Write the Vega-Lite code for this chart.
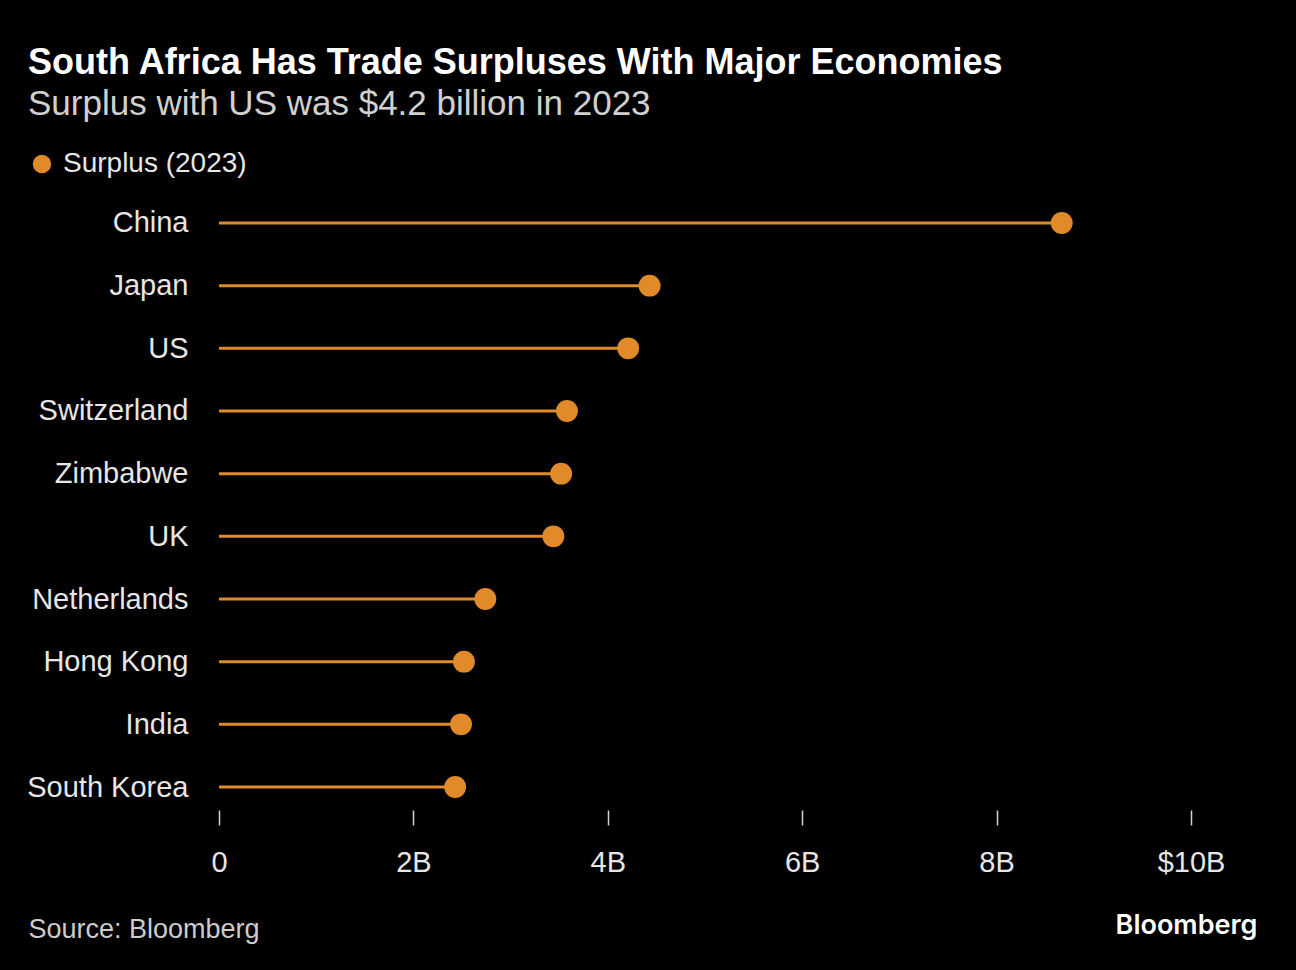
{
  "$schema": "https://vega.github.io/schema/vega-lite/v6.json",
  "autosize": {"type": "none"},
  "width": 972,
  "height": 610,
  "padding": {"left": 219, "top": 200, "right": 105, "bottom": 160},
  "background": "#000000",
  "view": {"stroke": null},
  "title": {
    "text": "South Africa Has Trade Surpluses With Major Economies",
    "subtitle": "Surplus with US was $4.2 billion in 2023",
    "anchor": "start",
    "frame": "group",
    "dx": -191,
    "offset": 27,
    "font": "Liberation Sans",
    "fontSize": 36,
    "fontWeight": "bold",
    "color": "#ffffff",
    "subtitleFont": "Liberation Sans",
    "subtitleFontSize": 35,
    "subtitleColor": "#d0d0d0",
    "subtitlePadding": 5
  },
  "data": {
    "values": [
      {"country": "China", "value": 8.67, "series": "Surplus (2023)"},
      {"country": "Japan", "value": 4.43, "series": "Surplus (2023)"},
      {"country": "US", "value": 4.21, "series": "Surplus (2023)"},
      {"country": "Switzerland", "value": 3.58, "series": "Surplus (2023)"},
      {"country": "Zimbabwe", "value": 3.52, "series": "Surplus (2023)"},
      {"country": "UK", "value": 3.44, "series": "Surplus (2023)"},
      {"country": "Netherlands", "value": 2.74, "series": "Surplus (2023)"},
      {"country": "Hong Kong", "value": 2.52, "series": "Surplus (2023)"},
      {"country": "India", "value": 2.49, "series": "Surplus (2023)"},
      {"country": "South Korea", "value": 2.43, "series": "Surplus (2023)"}
    ]
  },
  "encoding": {
    "y": {
      "field": "country",
      "type": "nominal",
      "sort": null,
      "scale": {"type": "point", "padding": 0.367},
      "axis": {
        "title": "Bloomberg",
        "titleAngle": 0,
        "titleX": 1038,
        "titleY": 725,
        "titleAlign": "right",
        "titleBaseline": "middle",
        "titleFont": "Inter",
        "titleFontSize": 27,
        "titleFontWeight": 600,
        "titleColor": "#ffffff",
        "domain": false,
        "ticks": false,
        "grid": false,
        "labelPadding": 31,
        "labelFont": "Liberation Sans",
        "labelFontSize": 29,
        "labelColor": "#e6e6e6",
        "labelLimit": 400
      }
    },
    "x": {
      "field": "value",
      "type": "quantitative",
      "scale": {"domain": [0, 10], "nice": false},
      "axis": {
        "values": [0, 2, 4, 6, 8, 10],
        "labelExpr": "datum.value == 0 ? '0' : datum.value == 10 ? '$10B' : datum.value + 'B'",
        "labelFlush": false,
        "labelOverlap": false,
        "domain": false,
        "grid": false,
        "ticks": true,
        "tickSize": 15,
        "tickWidth": 1.5,
        "tickColor": "#d0d0d0",
        "labelPadding": 23,
        "labelFont": "Liberation Sans",
        "labelFontSize": 29,
        "labelColor": "#e6e6e6",
        "title": "Source: Bloomberg",
        "titleAnchor": "start",
        "titleX": -191,
        "titleY": 119,
        "titleAlign": "left",
        "titleBaseline": "middle",
        "titleFont": "Liberation Sans",
        "titleFontSize": 27,
        "titleFontWeight": "normal",
        "titleColor": "#cccccc"
      }
    }
  },
  "layer": [
    {
      "mark": {"type": "rule", "color": "#e08a2a", "strokeWidth": 3},
      "encoding": {
        "x2": {"datum": 0}
      }
    },
    {
      "mark": {"type": "point", "shape": "circle", "filled": true, "size": 480, "opacity": 1},
      "encoding": {
        "color": {
          "field": "series",
          "type": "nominal",
          "scale": {"range": ["#e08a2a"]},
          "legend": {
            "title": null,
            "orient": "none",
            "legendX": -191,
            "legendY": -50,
            "symbolType": "circle",
            "symbolSize": 340,
            "symbolOpacity": 1,
            "labelFont": "Liberation Sans",
            "labelFontSize": 28,
            "labelColor": "#e6e6e6",
            "labelOffset": 7,
            "labelLimit": 500
          }
        }
      }
    }
  ]
}
